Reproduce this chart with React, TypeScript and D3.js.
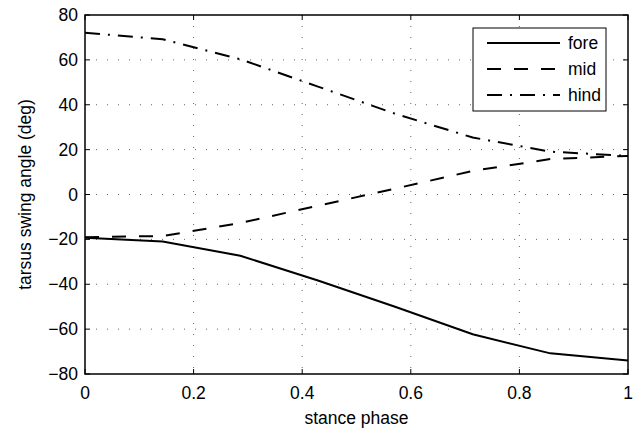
import React from 'react';
import * as d3 from 'd3';

const phase = [0, 0.143, 0.286, 0.429, 0.571, 0.714, 0.857, 1];
const fore = [-19.3, -21, -27.3, -38.3, -50, -62.3, -70.8, -74];
const mid = [-19, -18.5, -12.7, -5, 2.6, 10.5, 15.8, 17.2];
const hind = [72.1, 69.2, 60.3, 48.1, 36, 25.4, 19.1, 17.2];

const xTicks = [0, 0.2, 0.4, 0.6, 0.8, 1];
const yTicks = [-80, -60, -40, -20, 0, 20, 40, 60, 80];

const seriesNames = ['fore', 'mid', 'hind'];
const seriesValues = [fore, mid, hind];
const dashes = ['none', '14,13', '15,8,2,8'];

export default function App() {
  const width = 639;
  const height = 435;
  const margin = { top: 15, right: 11, bottom: 61, left: 85 };

  const x = d3.scaleLinear().domain([0, 1]).range([margin.left, width - margin.right]);
  const y = d3.scaleLinear().domain([-80, 80]).range([height - margin.bottom, margin.top]);

  const line = d3.line<number>()
    .x((d, i) => x(phase[i]))
    .y((d) => y(d));

  const font = 'Liberation Sans, Arial, sans-serif';
  const fs = 17.5;
  const left = x(0);
  const right = x(1);
  const top = y(80);
  const bottom = y(-80);
  const tick = 5;

  const legend = { x: 473, y: 28, w: 133, h: 83 };

  return (
    <svg width={width} height={height} style={{ position: 'absolute', left: 0, top: 0, background: '#fff' }}>
      <rect x={0} y={0} width={width} height={height} fill="#fff" />

      {/* grid */}
      {xTicks.slice(1, -1).map((t) => (
        <line key={'gx' + t} x1={x(t)} x2={x(t)} y1={top} y2={bottom}
          stroke="#666" strokeDasharray="1,10" />
      ))}
      {yTicks.slice(1, -1).map((t) => (
        <line key={'gy' + t} x1={left} x2={right} y1={y(t)} y2={y(t)}
          stroke="#666" strokeDasharray="1,10" />
      ))}

      {/* series */}
      {seriesValues.map((vals, i) => (
        <path key={seriesNames[i]} d={line(vals) || ''} fill="none" stroke="#000"
          strokeWidth={2} strokeDasharray={dashes[i]} />
      ))}

      {/* ticks */}
      {xTicks.map((t) => (
        <g key={'tx' + t}>
          <line x1={x(t)} x2={x(t)} y1={bottom} y2={bottom - tick} stroke="#000" />
          <line x1={x(t)} x2={x(t)} y1={top} y2={top + tick} stroke="#000" />
          <text x={x(t)} y={bottom + 25} textAnchor="middle" fontFamily={font} fontSize={fs}>{t}</text>
        </g>
      ))}
      {yTicks.map((t) => (
        <g key={'ty' + t}>
          <line x1={left} x2={left + tick} y1={y(t)} y2={y(t)} stroke="#000" />
          <line x1={right} x2={right - tick} y1={y(t)} y2={y(t)} stroke="#000" />
          <text x={left - 7} y={y(t) + 6} textAnchor="end" fontFamily={font} fontSize={fs}>
            {t < 0 ? '\u2212' + Math.abs(t) : t}
          </text>
        </g>
      ))}

      {/* frame */}
      <rect x={left} y={top} width={right - left} height={bottom - top} fill="none" stroke="#000" strokeWidth={1.5} />

      {/* legend */}
      <rect x={legend.x} y={legend.y} width={legend.w} height={legend.h} fill="#fff" stroke="#000" strokeWidth={1} />
      {seriesNames.map((name, i) => (
        <g key={'lg' + name}>
          <line x1={legend.x + 14} x2={legend.x + 87} y1={legend.y + 15 + i * 26} y2={legend.y + 15 + i * 26}
            stroke="#000" strokeWidth={2} strokeDasharray={dashes[i]} />
          <text x={legend.x + 95} y={legend.y + 21 + i * 26} fontFamily={font} fontSize={fs}>{name}</text>
        </g>
      ))}

      {/* axis labels */}
      <text x={(left + right) / 2} y={height - 11} textAnchor="middle" fontFamily={font} fontSize={fs}>stance phase</text>
      <text transform={`translate(31, ${(top + bottom) / 2}) rotate(-90)`} textAnchor="middle"
        fontFamily={font} fontSize={fs}>tarsus swing angle (deg)</text>
    </svg>
  );
}
